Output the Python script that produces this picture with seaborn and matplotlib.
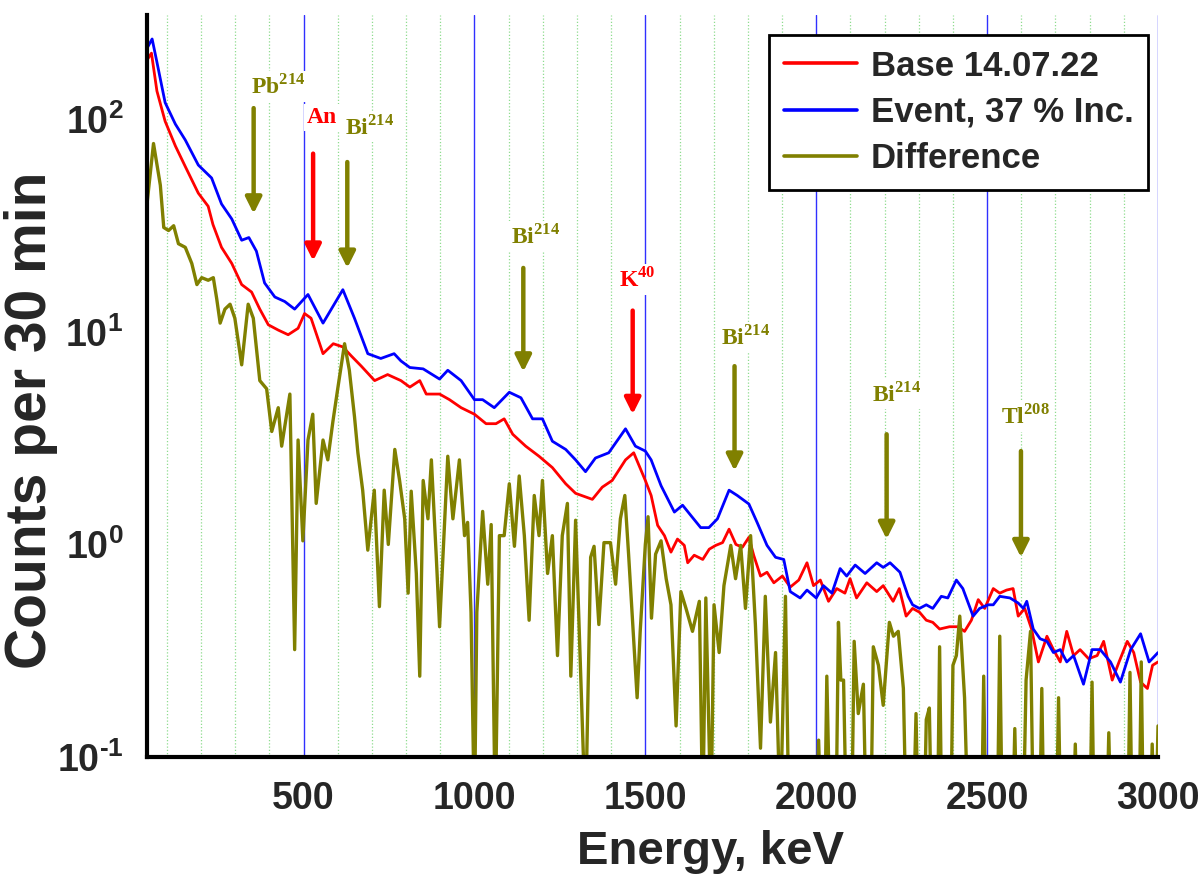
import matplotlib
matplotlib.use('Agg')
import matplotlib.pyplot as plt
import matplotlib.ticker as mticker
import numpy as np
import pandas as pd
import seaborn as sns

# ── Spectra (keV, counts per 30 min) ──────────────────────────────────────
base_energy = [42, 55, 71, 95, 125, 154, 192, 221, 235, 260, 290, 319, 348, 372, 397,
               426, 455, 484, 503, 522, 557, 587, 615, 640, 669, 708, 746, 785, 811,
               840, 859, 898, 927, 961, 1000, 1034, 1063, 1087, 1112, 1150, 1189,
               1228, 1267, 1296, 1345, 1374, 1403, 1442, 1466, 1500, 1517, 1536, 1556,
               1575, 1594, 1614, 1624, 1643, 1668, 1687, 1706, 1726, 1745, 1765, 1784,
               1803, 1817, 1837, 1856, 1876, 1901, 1924, 1949, 1973, 1992, 2012, 2036,
               2060, 2084, 2099, 2118, 2148, 2177, 2196, 2225, 2243, 2263, 2282, 2302,
               2322, 2341, 2361, 2390, 2415, 2434, 2454, 2474, 2493, 2518, 2537, 2557,
               2576, 2591, 2610, 2630, 2650, 2675, 2694, 2714, 2733, 2753, 2772, 2797,
               2822, 2841, 2866, 2886, 2910, 2929, 2949, 2969, 2984, 3000]
base_counts = [190, 205, 136, 98, 75, 60, 45, 39, 32, 25, 21, 16.7, 15.4, 12.8, 10.8,
               10.2, 9.7, 10.4, 12.2, 11.6, 7.9, 8.8, 8.5, 7.7, 6.9, 5.9, 6.3, 5.9, 5.5,
               5.9, 5.1, 5.1, 4.8, 4.4, 4.1, 3.7, 3.7, 3.9, 3.3, 2.9, 2.6,
               2.3, 1.93, 1.74, 1.63, 1.86, 2.0, 2.5, 2.7, 2.0, 1.7, 1.23, 1.1,
               0.92, 1.06, 0.99, 0.82, 0.89, 0.85, 0.95, 0.99, 1.02, 1.18, 1.0, 0.97,
               1.08, 0.89, 0.71, 0.74, 0.66, 0.71, 0.63, 0.68, 0.82, 0.64, 0.68, 0.54,
               0.62, 0.59, 0.69, 0.56, 0.66, 0.60, 0.64, 0.54, 0.62, 0.46, 0.50, 0.48,
               0.44, 0.43, 0.40, 0.41, 0.41, 0.39, 0.44, 0.55, 0.50, 0.62, 0.59, 0.61,
               0.62, 0.46, 0.50, 0.40, 0.28, 0.37, 0.32, 0.28, 0.39, 0.30, 0.32, 0.29,
               0.30, 0.35, 0.23, 0.28, 0.35, 0.31, 0.225, 0.21, 0.27, 0.28]

event_energy = [42, 57, 71, 95, 125, 154, 192, 231, 260, 290, 319, 340, 362, 386, 416,
                445, 474, 513, 557, 615, 649, 688, 726, 765, 785, 811, 850, 898, 922,
                961, 1000, 1024, 1058, 1102, 1136, 1170, 1199, 1228, 1267, 1296, 1325,
                1354, 1393, 1442, 1471, 1500, 1517, 1546, 1585, 1609, 1633, 1662, 1686,
                1711, 1745, 1769, 1803, 1827, 1856, 1881, 1905, 1924, 1953, 1973, 2000,
                2021, 2046, 2070, 2089, 2114, 2143, 2177, 2196, 2216, 2245, 2269, 2282,
                2302, 2322, 2341, 2366, 2385, 2410, 2429, 2459, 2478, 2503, 2518, 2537,
                2567, 2591, 2606, 2616, 2635, 2655, 2675, 2694, 2714, 2733, 2753, 2782,
                2807, 2831, 2861, 2890, 2920, 2949, 2974, 3000]
event_counts = [216, 239, 186, 120, 95, 80, 61, 53, 40, 34, 27, 27.8, 24, 17, 14.6,
                13.9, 12.8, 15, 11, 15.8, 11.6, 7.9, 7.5, 7.9, 7.3, 6.8, 6.7, 6.0, 6.6,
                5.9, 4.8, 4.8, 4.4, 5.2, 4.9, 3.9, 3.9, 3.06, 2.8, 2.5, 2.2,
                2.55, 2.7, 3.5, 2.9, 2.75, 2.5, 1.89, 1.42, 1.53, 1.37, 1.2, 1.2,
                1.32, 1.8, 1.7, 1.55, 1.27, 0.99, 0.87, 0.85, 0.60, 0.56, 0.61, 0.56,
                0.64, 0.59, 0.77, 0.71, 0.80, 0.73, 0.82, 0.78, 0.82, 0.74, 0.57, 0.52,
                0.50, 0.52, 0.50, 0.57, 0.56, 0.68, 0.62, 0.46, 0.50, 0.52, 0.52, 0.57,
                0.56, 0.53, 0.50, 0.54, 0.40, 0.36, 0.35, 0.31, 0.32, 0.28, 0.30, 0.22,
                0.32, 0.32, 0.28, 0.225, 0.32, 0.38, 0.28, 0.31]

# values of 0.05 sit below the axis floor (difference <= 0.1 or negative)
diff_energy = [42, 61, 81, 91, 105, 120, 134, 154, 173, 188, 202, 221, 236, 246, 256,
               270, 285, 299, 319, 338, 353, 372, 392, 407, 426, 436, 460, 474, 484,
               498, 513, 527, 537, 557, 571, 586, 600, 620, 634, 649, 659, 673, 688,
               707, 722, 736, 748, 767, 781, 796, 806, 815, 830, 840, 850, 864, 874,
               888, 898, 922, 937, 956, 971, 980, 990, 1000, 1007, 1024, 1039, 1049,
               1061, 1073, 1087, 1102, 1117, 1131, 1146, 1160, 1175, 1189, 1199, 1214,
               1228, 1243, 1257, 1272, 1282, 1296, 1311, 1325, 1340, 1350, 1364, 1379,
               1398, 1413, 1427, 1440, 1451, 1476, 1485, 1500, 1508, 1518, 1530, 1546,
               1561, 1575, 1590, 1604, 1619, 1638, 1658, 1668, 1677, 1692, 1701, 1716,
               1730, 1750, 1764, 1779, 1793, 1808, 1822, 1837, 1851, 1866, 1881, 1895,
               1910, 1920, 2000, 2007, 2014, 2025, 2031, 2040, 2058, 2065, 2072, 2080,
               2088, 2104, 2111, 2123, 2138, 2146, 2160, 2167, 2182, 2196, 2214, 2226,
               2240, 2255, 2263, 2284, 2292, 2298, 2316, 2322, 2331, 2337, 2355, 2361,
               2367, 2394, 2400, 2410, 2420, 2434, 2444, 2484, 2490, 2496, 2530, 2537,
               2544, 2575, 2581, 2587, 2606, 2614, 2627, 2635, 2654, 2660, 2666, 2703,
               2709, 2715, 2752, 2758, 2764, 2801, 2807, 2813, 2850, 2856, 2862, 2912,
               2918, 2924, 2945, 2951, 2957, 2978, 2983, 2989, 2994, 3000]
diff_counts = [40, 77, 49, 31, 30, 31.6, 26, 25, 21, 16.7, 18, 17.5, 18, 14.3, 11,
               12.8, 13.5, 11.6, 7, 13.5, 11.6, 5.9, 5.4, 3.4, 4.4, 2.9, 5.1, 0.32, 3.1,
               1.04, 3.1, 4.1, 1.56, 3.1, 2.5, 3.8, 5.4, 8.8, 6.6, 4.0, 2.7, 1.8, 0.94,
               1.8, 0.51, 1.8, 1.0, 2.8, 2.0, 1.32, 0.59, 1.78, 0.73, 0.24, 2.0, 1.32, 2.5,
               0.9, 0.41, 2.6, 1.32, 2.5, 1.1, 1.27, 0.48, 0.05, 0.48, 1.43, 0.65, 1.24,
               0.05, 1.1, 1.1, 1.93, 0.98, 2.1, 1.1, 0.44, 1.7, 1.1, 2.0, 0.73,
               1.1, 0.30, 1.1, 1.56, 0.24, 1.30, 0.24, 0.05, 0.87, 0.98, 0.42, 1.02,
               1.02, 0.65, 1.32, 1.7, 0.9, 0.19, 0.39, 1.0, 1.35, 0.45, 0.9, 1.04,
               0.69, 0.52, 0.14, 0.60, 0.50, 0.39, 0.54, 0.05, 0.56, 0.05, 0.52, 0.31,
               0.64, 0.99, 0.69, 0.99, 0.50, 1.1, 0.42, 0.11, 0.57, 0.146, 0.31, 0.05,
               0.57, 0.05, 0.05, 0.12, 0.05, 0.05, 0.24, 0.05, 0.05, 0.43, 0.23, 0.23,
               0.05, 0.05, 0.35, 0.16, 0.22, 0.05, 0.05, 0.33, 0.27, 0.175, 0.43, 0.37,
               0.39, 0.21, 0.05, 0.05, 0.16, 0.05, 0.05, 0.15, 0.17, 0.05, 0.05, 0.33,
               0.05, 0.05, 0.27, 0.30, 0.46, 0.19, 0.05, 0.05, 0.24, 0.05, 0.05, 0.37,
               0.05, 0.05, 0.136, 0.05, 0.05, 0.23, 0.39, 0.05, 0.05, 0.21, 0.05, 0.05,
               0.19, 0.05, 0.05, 0.115, 0.05, 0.05, 0.225, 0.05, 0.05, 0.13, 0.05, 0.05,
               0.25, 0.05, 0.05, 0.28, 0.05, 0.05, 0.115, 0.05, 0.05, 0.14]

# ── Peak markers: label, colour, text pos (keV, counts), arrow x, tail, head ──
peaks = [
    ('Pb$^{\\mathsf{214}}$', '#808000', 346, 132, 354, 113, 36),
    ('An',                  '#ff0000', 510, 96, 528, 69, 21.6),
    ('Bi$^{\\mathsf{214}}$', '#808000', 622, 85, 628, 63, 20),
    ('Bi$^{\\mathsf{214}}$', '#808000', 1106, 26, 1143, 20, 6.5),
    ('K$^{\\mathsf{40}}$',   '#ff0000', 1422, 16.3, 1463, 12.6, 4.1),
    ('Bi$^{\\mathsf{214}}$', '#808000', 1722, 8.7, 1761, 6.9, 2.22),
    ('Bi$^{\\mathsf{214}}$', '#808000', 2162, 4.7, 2206, 3.3, 1.06),
    ('Tl$^{\\mathsf{208}}$', '#808000', 2542, 3.7, 2599, 2.75, 0.87),
]

RED, BLUE, OLIVE = '#ff0000', '#0000ff', '#808000'

sns.set_theme(style='white')
plt.rcParams['font.family'] = ['Liberation Sans', 'DejaVu Sans']
plt.rcParams['font.weight'] = 'bold'
plt.rcParams['mathtext.fontset'] = 'custom'
plt.rcParams['mathtext.rm'] = 'Liberation Sans:bold'
plt.rcParams['mathtext.it'] = 'Liberation Sans:bold'
plt.rcParams['mathtext.bf'] = 'Liberation Sans:bold'
plt.rcParams['mathtext.sf'] = 'Liberation Serif:bold'


def decade_label(v, _):
    exp = int(round(np.log10(v)))
    if exp < 0:
        return f'$10^{{\\text{{{exp}}}}}$'   # short hyphen like the original
    return f'$10^{{{exp}}}$'


fig = plt.figure(figsize=(12.03, 8.80), dpi=100)
ax = fig.add_axes([0.1222, 0.1398, 0.8404, 0.8432])

base = pd.DataFrame({'Energy': base_energy, 'Counts': base_counts})
event = pd.DataFrame({'Energy': event_energy, 'Counts': event_counts})
diff = pd.DataFrame({'Energy': diff_energy, 'Counts': diff_counts})

sns.lineplot(data=base, x='Energy', y='Counts', ax=ax, color=RED, lw=2.0,
             label='Base 14.07.22', estimator=None, sort=False)
sns.lineplot(data=event, x='Energy', y='Counts', ax=ax, color=BLUE, lw=2.0,
             label='Event, 37 % Inc.', estimator=None, sort=False)
sns.lineplot(data=diff, x='Energy', y='Counts', ax=ax, color=OLIVE, lw=2.4,
             label='Difference', estimator=None, sort=False)

ax.set_yscale('log')
ax.set_xlim(42, 3000)
ax.set_ylim(0.1, 310)

ax.xaxis.set_major_locator(mticker.MultipleLocator(500))
ax.xaxis.set_minor_locator(mticker.MultipleLocator(100))
ax.yaxis.set_major_locator(mticker.LogLocator(base=10))
ax.yaxis.set_minor_locator(mticker.LogLocator(base=10, subs=np.arange(2, 10)))
ax.yaxis.set_minor_formatter(mticker.NullFormatter())
ax.yaxis.set_major_formatter(mticker.FuncFormatter(decade_label))

# vertical grid: solid blue every 500 keV, dotted green every 100 keV
ax.xaxis.grid(True, which='major', color='#3030ff', lw=1.0, ls='-')
ax.xaxis.grid(True, which='minor', color='#8fdc8f', lw=0.9, ls=(0, (1, 1.6)))
ax.yaxis.grid(False)
ax.set_axisbelow(True)

ax.tick_params(axis='both', which='major', direction='out', length=11, width=2.8,
               labelsize=27, color='black', pad=6)
ax.tick_params(axis='both', which='minor', direction='out', length=7, width=2.4,
               color='black')
for lab in ax.get_xticklabels() + ax.get_yticklabels():
    lab.set_fontweight('bold')

for side in ('top', 'right'):
    ax.spines[side].set_visible(False)
for side in ('left', 'bottom'):
    ax.spines[side].set_color('black')
    ax.spines[side].set_linewidth(3.0)

ax.set_xlabel('Energy, keV', fontsize=34, fontweight='bold')
ax.set_ylabel('Counts per 30 min', fontsize=41, fontweight='bold')
ax.xaxis.set_label_coords(0.557, -0.098)
ax.yaxis.set_label_coords(-0.088, 0.454)

# ── Peak annotations ──────────────────────────────────────────────────────
for label, col, tx, ty, ax_x, tail, head in peaks:
    ax.text(tx, ty, label, color=col, fontsize=17, fontweight='bold',
            family='Liberation Serif', ha='left', va='baseline', zorder=4,
            bbox=dict(facecolor='white', edgecolor='none', pad=2))
    ax.annotate('', xy=(ax_x, head), xytext=(ax_x, tail), zorder=4,
                arrowprops=dict(arrowstyle='-|>', color=col, lw=3.2,
                                mutation_scale=24, shrinkA=0, shrinkB=0))

leg = ax.legend(loc='upper right', bbox_to_anchor=(0.99, 0.973), frameon=True,
                fancybox=False, edgecolor='black', framealpha=1, fontsize=25,
                handlelength=2.1, labelspacing=0.38, borderpad=0.42,
                handletextpad=0.4, borderaxespad=0)
leg.get_frame().set_linewidth(2.0)
for line in leg.get_lines():
    line.set_linewidth(2.6)

fig.savefig('out.png', dpi=100)
